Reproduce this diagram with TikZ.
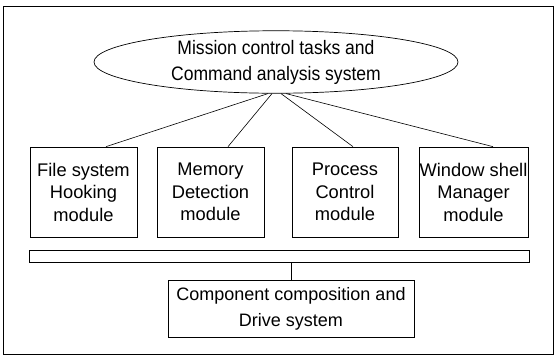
\documentclass[tikz,border=0pt]{standalone}
\usepackage{fontspec}
\setmainfont{Liberation Sans}
\newfontfamily\narrowfont{Liberation Sans}[FakeStretch=0.9]
\usetikzlibrary{shapes.geometric}
\begin{document}
\begin{tikzpicture}[x=1pt,y=-1pt,line width=0.7pt,
  modbox/.style={draw,rectangle,minimum height=90pt,inner sep=0pt,align=center,
    font=\fontsize{18.3}{22.5}\selectfont},
  conn/.style={draw,line width=0.6pt}]
\useasboundingbox (0,0) rectangle (555,357);
\node[draw,rectangle,minimum width=550pt,minimum height=348pt,inner sep=0pt] (frame) at (278,180) {};
\node[draw,ellipse,minimum width=364pt,minimum height=60pt,inner sep=0pt,align=center,
  font=\narrowfont\fontsize{19.5}{26}\selectfont] (mission) at (276,62)
  {Mission control tasks and\\Command analysis system};
\node[modbox,minimum width=107pt] (box1) at (83.5,192) {File system\\Hooking\\module};
\node[modbox,minimum width=107pt] (box2) at (210.5,192) {Memory\\Detection\\module};
\node[modbox,minimum width=106pt] (box3) at (345,192) {Process\\Control\\module};
\node[modbox,minimum width=109pt] (box4) at (473.5,192) {Window shell\\Manager\\module};
\node[draw,rectangle,minimum width=500pt,minimum height=12pt,inner sep=0pt] (bus) at (279,256) {};
\node[draw,rectangle,minimum width=246pt,minimum height=57pt,inner sep=0pt,align=center,
  font=\fontsize{18}{26}\selectfont] (drive) at (291,308.5)
  {Component composition and\\Drive system};
\draw[conn] ([xshift=-8pt]mission.south) -- ([xshift=22.5pt]box1.north);
\draw[conn] ([xshift=-4pt]mission.south) -- ([xshift=17.5pt]box2.north);
\draw[conn] ([xshift=5pt]mission.south) -- ([xshift=8pt]box3.north);
\draw[conn] ([xshift=10pt]mission.south) -- ([xshift=19.5pt]box4.north);
\draw[conn] (drive.north) -- (drive.north |- bus.south);
\end{tikzpicture}
\end{document}
